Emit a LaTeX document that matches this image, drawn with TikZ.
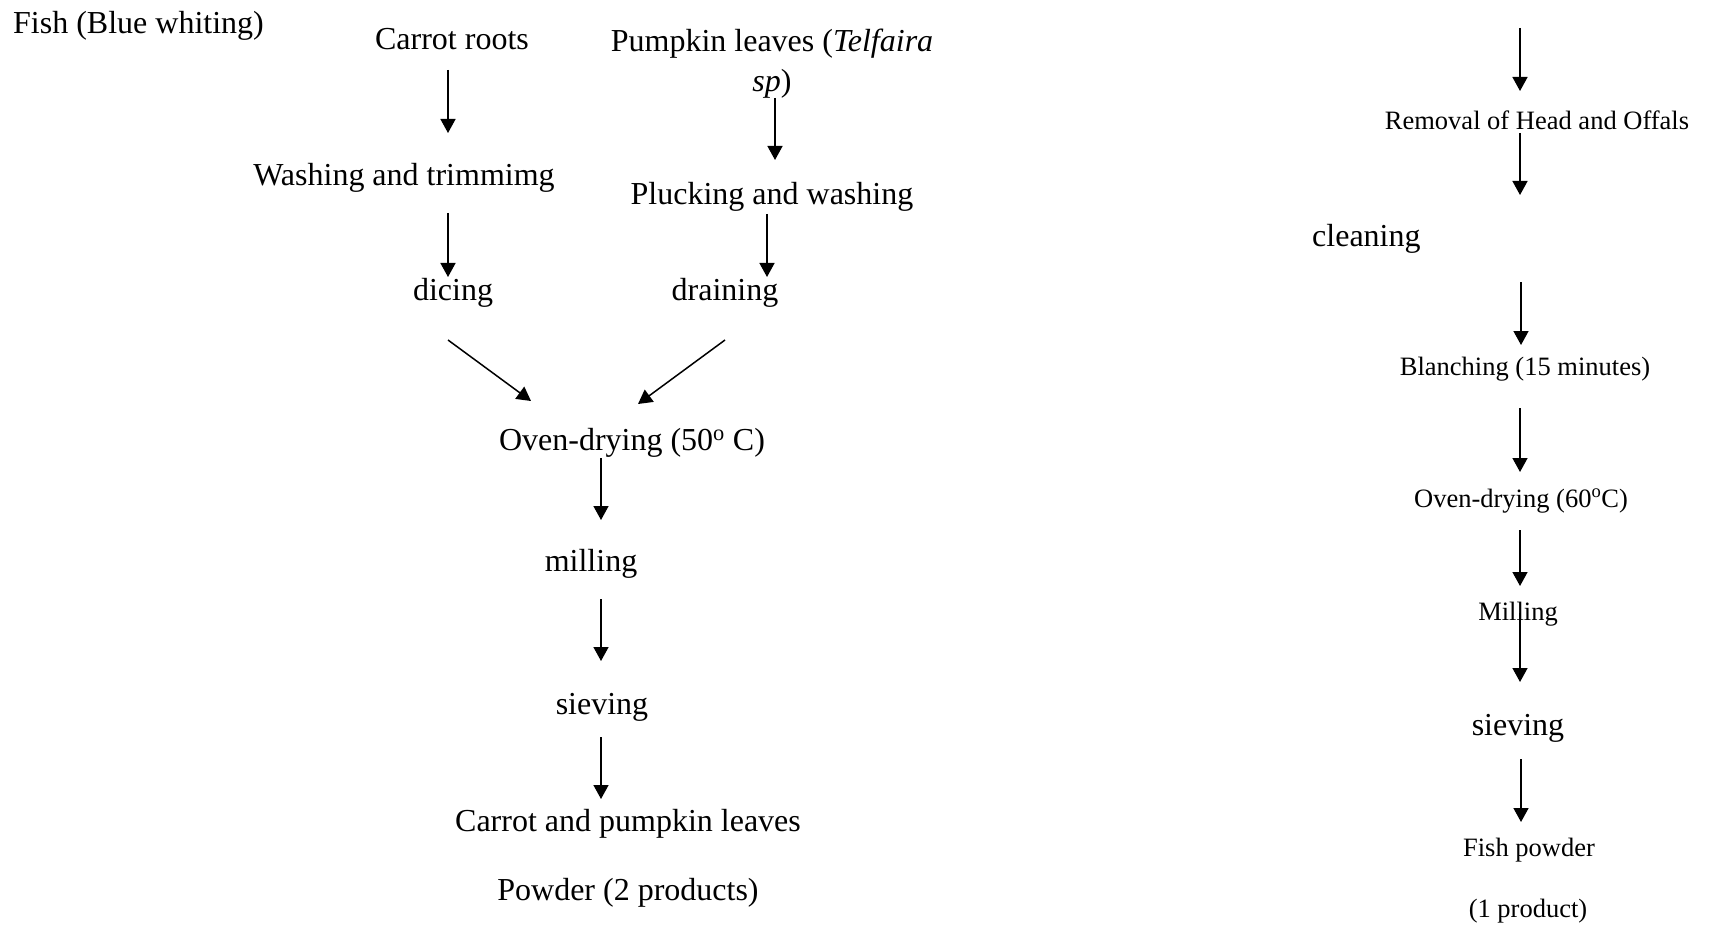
\documentclass[tikz,border=0pt]{standalone}
\usepackage{fontspec}
\setmainfont{Liberation Serif}
\usetikzlibrary{arrows.meta}
\tikzset{
  big/.style={font=\fontsize{32}{40}\selectfont, inner sep=0pt, anchor=base},
  small/.style={font=\fontsize{26.5}{32}\selectfont, inner sep=0pt, anchor=base},
  arr/.style={line width=1.5pt, -{Triangle[length=14pt,width=15pt]}}
}
\begin{document}
\begin{tikzpicture}[x=1pt,y=-1pt]
\useasboundingbox[fill=white] (0,0) rectangle (1714,928);
% left column
\node[big, anchor=base west] (fish) at (13,34) {Fish (Blue whiting)};
\node[big] (carrot) at (452,50) {Carrot roots};
\node[big] (pump1) at (772,52) {Pumpkin leaves (\textit{Telfaira}};
\node[big] (pump2) at (772,92) {\textit{sp})};
\node[big] (wash) at (404,186) {Washing and trimmimg};
\node[big] (pluck) at (772,205) {Plucking and washing};
\node[big] (dice) at (453,300) {dicing};
\node[big] (drain) at (725,300) {draining};
\node[big] (oven) at (632,450) {Oven-drying (50\textsuperscript{o} C)};
\node[big] (mill) at (591,571) {milling};
\node[big] (sieve) at (602,714) {sieving};
\node[big] (prod1) at (628,831) {Carrot and pumpkin leaves};
\node[big] (prod2) at (628,900) {Powder (2 products)};
% arrow end points (left)
\coordinate (a1s) at (448,70);  \coordinate (a1e) at (448,133);
\coordinate (b1s) at (775,98);  \coordinate (b1e) at (775,160);
\coordinate (a2s) at (448,213); \coordinate (a2e) at (448,277);
\coordinate (b2s) at (767,214); \coordinate (b2e) at (767,277);
\coordinate (a3s) at (448,340); \coordinate (a3e) at (531,401);
\coordinate (b3s) at (725,340); \coordinate (b3e) at (638,404);
\coordinate (o1s) at (601,458); \coordinate (o1e) at (601,520);
\coordinate (o2s) at (601,599); \coordinate (o2e) at (601,661);
\coordinate (o3s) at (601,737); \coordinate (o3e) at (601,799);
\draw[arr] (a1s) -- (a1e);
\draw[arr] (b1s) -- (b1e);
\draw[arr] (a2s) -- (a2e);
\draw[arr] (b2s) -- (b2e);
\draw[arr] (a3s) -- (a3e);
\draw[arr] (b3s) -- (b3e);
\draw[arr] (o1s) -- (o1e);
\draw[arr] (o2s) -- (o2e);
\draw[arr] (o3s) -- (o3e);
% right column
\node[small] (rem) at (1537,130) {Removal of Head and Offals};
\node[big, anchor=base west] (clean) at (1312,247) {cleaning};
\node[small] (blanch) at (1525,375) {Blanching (15 minutes)};
\node[small] (oven2) at (1521,507) {Oven-drying (60\textsuperscript{o}C)};
\node[small] (mill2) at (1518,620) {Milling};
\node[big] (sieve2) at (1518,735) {sieving};
\node[small] (fp1) at (1529,856) {Fish powder};
\node[small] (fp2) at (1528,917) {(1 product)};
\coordinate (r1s) at (1520,28);  \coordinate (r1e) at (1520,91);
\coordinate (r2s) at (1520,133); \coordinate (r2e) at (1520,195);
\coordinate (r3s) at (1521,282); \coordinate (r3e) at (1521,345);
\coordinate (r4s) at (1520,408); \coordinate (r4e) at (1520,472);
\coordinate (r5s) at (1520,530); \coordinate (r5e) at (1520,586);
\coordinate (r6s) at (1520,613); \coordinate (r6e) at (1520,682);
\coordinate (r7s) at (1521,759); \coordinate (r7e) at (1521,822);
\draw[arr] (r1s) -- (r1e);
\draw[arr] (r2s) -- (r2e);
\draw[arr] (r3s) -- (r3e);
\draw[arr] (r4s) -- (r4e);
\draw[arr] (r5s) -- (r5e);
\draw[arr] (r6s) -- (r6e);
\draw[arr] (r7s) -- (r7e);
\end{tikzpicture}
\end{document}
